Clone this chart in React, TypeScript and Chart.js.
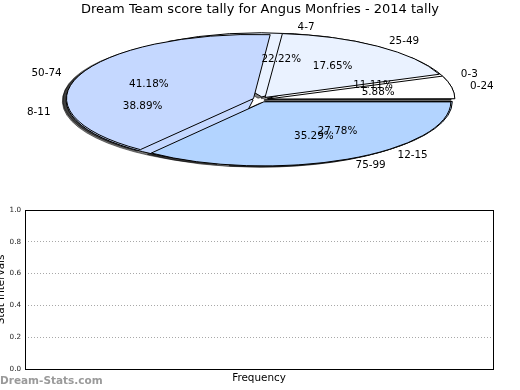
import React, { useEffect, useRef } from 'react';
import { Chart, registerables } from 'chart.js';

Chart.register(...registerables);

// ---------- data ----------
const TITLE = 'Dream Team score tally for Angus Monfries - 2014 tally';
const pieALabels = ['0-3', '4-7', '8-11', '12-15'];
const pieAValues = [2, 4, 7, 5];
const pieBLabels = ['0-24', '25-49', '50-74', '75-99'];
const pieBValues = [1, 3, 7, 6];
const sliceColors = ['#ffffff', '#eaf2ff', '#c5d8ff', '#b3d4ff'];
const yTicks = [0, 0.2, 0.4, 0.6, 0.8, 1.0];
const X_TITLE = 'Frequency';
const Y_TITLE = 'Stat Intervals';
const WATERMARK = 'Dream-Stats.com';

// ---------- style ----------
const FONT = '"DejaVu Sans", "Liberation Sans", sans-serif';
const ASPECT = 0.343; // vertical squash of the pie (axes not equal aspect)
const PIE_RADIUS = 187;
const EXPLODE_OFFSET = 30; // chart.js offset (translation = offset / 4)
const LABEL_DIST = 1.1;
const PCT_DIST = 0.6;

// matplotlib draws counter-clockwise from 3 o'clock; Chart.js clockwise -> reverse
const rev = <T,>(a: T[]) => [...a].reverse();
const sliceNames = [rev(pieBLabels), rev(pieALabels)];

const getR = (chart: any) => chart.getDatasetMeta(0).controller.outerRadius;

const ellipsePlugin = {
  id: 'ellipsePie',
  afterDatasetsUpdate(chart: any) {
    const R = getR(chart);
    chart.data.datasets.forEach((_: any, i: number) => {
      chart.getDatasetMeta(i).data.forEach((arc: any) => {
        const t = (arc.options.offset || 0) / 4;
        const fix = 1 - Math.sin(Math.min(Math.PI, arc.circumference || 0));
        arc.innerRadius = 0;
        arc.outerRadius = R - t * fix;
      });
    });
  },
  beforeDatasetsDraw(chart: any) {
    const ctx = chart.ctx as CanvasRenderingContext2D;
    const first = chart.getDatasetMeta(0).data[0];
    const cx = first.x;
    const cy = first.y;
    const R = getR(chart);
    ctx.save();
    const base = ctx.getTransform();
    const squash = () => {
      ctx.translate(cx, cy);
      ctx.scale(1, ASPECT);
      ctx.translate(-cx, -cy);
    };
    // shadows (beneath all wedges)
    ctx.save();
    ctx.translate(-0.02 * R, 0.02 * R * ASPECT);
    squash();
    const shadowTf = ctx.getTransform();
    for (const di of [1, 0]) {
      chart.getDatasetMeta(di).data.forEach((arc: any) => {
        const mid = (arc.startAngle + arc.endAngle) / 2;
        const t = (arc.options.offset || 0) / 4;
        const ox = arc.x + Math.cos(mid) * t;
        const oy = arc.y + Math.sin(mid) * t;
        ctx.setTransform(shadowTf);
        ctx.beginPath();
        ctx.moveTo(ox, oy);
        ctx.arc(ox, oy, R, arc.startAngle, arc.endAngle);
        ctx.closePath();
        ctx.fillStyle = 'rgba(0,0,0,0.5)';
        ctx.fill();
        ctx.setTransform(base);
        ctx.strokeStyle = 'rgba(0,0,0,0.5)';
        ctx.lineWidth = 1;
        ctx.stroke();
      });
    }
    ctx.restore();
    squash();
    const orig = ctx.stroke;
    (ctx as any).stroke = function (...args: any[]) {
      this.save();
      this.setTransform(base);
      orig.apply(this, args);
      this.restore();
    };
  },
  afterDatasetsDraw(chart: any) {
    const ctx = chart.ctx as CanvasRenderingContext2D;
    delete (ctx as any).stroke;
    ctx.restore();
    const R = getR(chart);
    ctx.save();
    ctx.fillStyle = '#000';
    ctx.font = `10.4px ${FONT}`;
    ctx.textBaseline = 'middle';
    for (const di of [1, 0]) {
      const meta = chart.getDatasetMeta(di);
      const values = chart.data.datasets[di].data as number[];
      const total = values.reduce((a, b) => a + b, 0);
      meta.data.forEach((arc: any, j: number) => {
        const mid = (arc.startAngle + arc.endAngle) / 2;
        const t = (arc.options.offset || 0) / 4;
        const pos = (f: number) => ({
          x: arc.x + Math.cos(mid) * (t + f * R),
          y: arc.y + Math.sin(mid) * (t + f * R) * ASPECT,
        });
        const lp = pos(LABEL_DIST);
        ctx.textAlign = lp.x > arc.x ? 'left' : 'right';
        ctx.fillText(sliceNames[di][j], lp.x, lp.y);
        const pp = pos(PCT_DIST);
        ctx.textAlign = 'center';
        ctx.fillText(((values[j] / total) * 100).toFixed(2) + '%', pp.x, pp.y);
      });
    }
    ctx.restore();
  },
  afterDraw(chart: any) {
    const ctx = chart.ctx as CanvasRenderingContext2D;
    ctx.save();
    ctx.fillStyle = '#000';
    ctx.font = `13px ${FONT}`;
    ctx.textAlign = 'center';
    ctx.textBaseline = 'middle';
    ctx.fillText(TITLE, chart.width / 2, 10);
    ctx.restore();
  },
};

const framePlugin = {
  id: 'frame',
  afterDraw(chart: any) {
    const ctx = chart.ctx as CanvasRenderingContext2D;
    const a = chart.chartArea;
    ctx.save();
    ctx.strokeStyle = '#000';
    ctx.lineWidth = 1;
    ctx.strokeRect(a.left + 0.5, a.top + 0.5, a.right - a.left, a.bottom - a.top);
    ctx.fillStyle = '#9a9a9a';
    ctx.font = `bold 10.5px ${FONT}`;
    ctx.textAlign = 'left';
    ctx.textBaseline = 'alphabetic';
    ctx.fillText(WATERMARK, 5, 184);
    ctx.restore();
  },
};

export default function App() {
  const pieRef = useRef<HTMLCanvasElement>(null);
  const axRef = useRef<HTMLCanvasElement>(null);

  useEffect(() => {
    const pie = new Chart(pieRef.current as HTMLCanvasElement, {
      type: 'pie',
      data: {
        labels: sliceNames[0],
        datasets: [
          {
            label: 'B',
            data: rev(pieBValues),
            backgroundColor: rev(sliceColors),
            borderColor: '#000',
            borderWidth: 1,
            offset: EXPLODE_OFFSET,
            clip: false,
          } as any,
          {
            label: 'A',
            data: rev(pieAValues),
            backgroundColor: rev(sliceColors),
            borderColor: '#000',
            borderWidth: 1,
            offset: EXPLODE_OFFSET,
            clip: false,
          } as any,
        ],
      },
      options: {
        animation: false,
        responsive: false,
        events: [],
        rotation: 90,
        radius: PIE_RADIUS,
        layout: { padding: { left: 1, right: 0, top: 0, bottom: 0 } },
        plugins: { legend: { display: false }, tooltip: { enabled: false }, title: { display: false } },
      } as any,
      plugins: [ellipsePlugin],
    });

    const ax = new Chart(axRef.current as HTMLCanvasElement, {
      type: 'scatter',
      data: { datasets: [] },
      options: {
        animation: false,
        responsive: false,
        events: [],
        layout: { padding: { left: 0, right: 27, top: 10, bottom: 0 } },
        plugins: { legend: { display: false }, tooltip: { enabled: false }, title: { display: false } },
        scales: {
          x: {
            type: 'linear',
            min: 0,
            max: 1,
            ticks: { display: false },
            grid: { display: false },
            border: { display: false },
            title: {
              display: true,
              text: X_TITLE,
              color: '#000',
              font: { family: FONT, size: 10.4 },
              padding: { top: 0, bottom: 5 },
            },
            afterFit: (s: any) => {
              s.height = 21;
            },
          },
          y: {
            type: 'linear',
            min: 0,
            max: 1,
            afterBuildTicks: (s: any) => {
              s.ticks = yTicks.map((v) => ({ value: v }));
            },
            ticks: {
              callback: (v: any) => Number(v).toFixed(1),
              color: '#222',
              font: { family: FONT, size: 7.2 },
              padding: 4,
            },
            grid: { color: '#a8a8a8', drawTicks: false, lineWidth: 1 },
            border: { display: false, dash: [1, 2] },
            title: {
              display: true,
              text: Y_TITLE,
              color: '#000',
              font: { family: FONT, size: 10.4 },
              padding: { top: 0, bottom: 0 },
            },
            afterFit: (s: any) => {
              s.width = 30;
            },
          },
        },
      } as any,
      plugins: [framePlugin],
    });

    return () => {
      pie.destroy();
      ax.destroy();
    };
  }, []);

  return (
    <div
      style={{
        position: 'fixed',
        left: 0,
        top: 0,
        width: 520,
        height: 390,
        overflow: 'hidden',
        background: '#fff',
      }}
    >
      <canvas
        ref={pieRef}
        width={520}
        height={199}
        style={{ position: 'absolute', left: 0, top: 0, width: 520, height: 199 }}
      />
      <canvas
        ref={axRef}
        width={525}
        height={190}
        style={{ position: 'absolute', left: -5, top: 200, width: 525, height: 190 }}
      />
    </div>
  );
}
